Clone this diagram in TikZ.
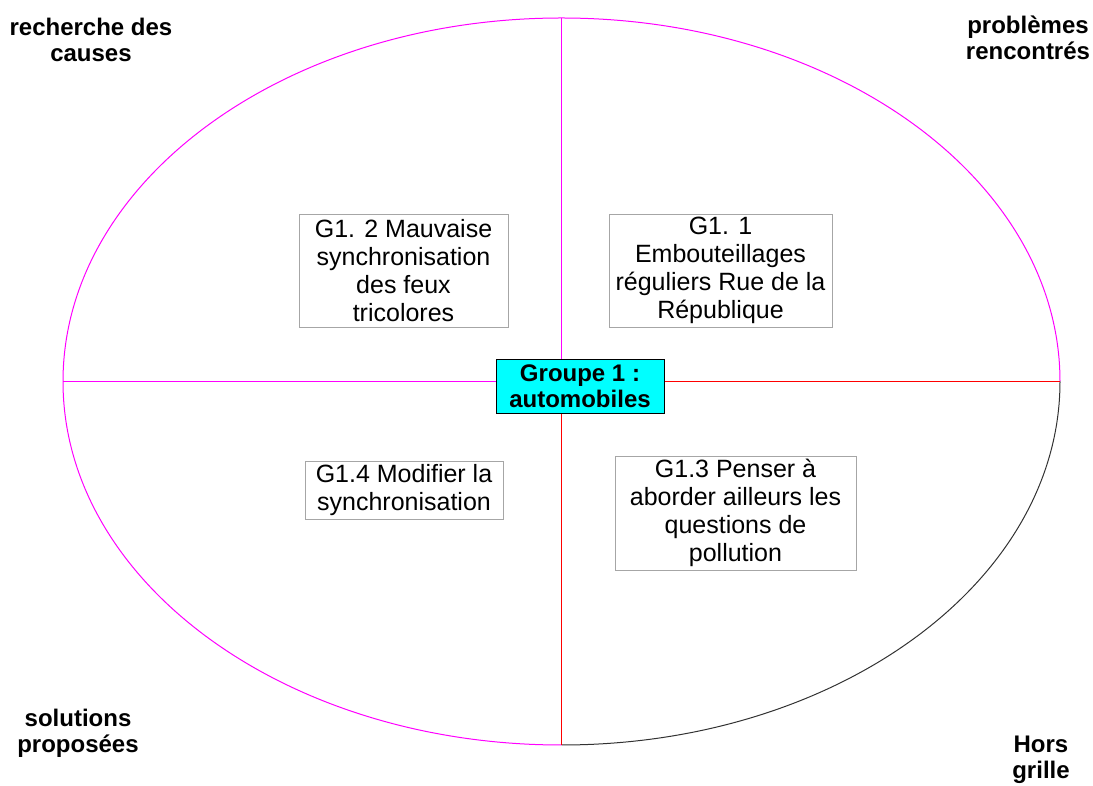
\documentclass[tikz,border=0pt]{standalone}
\usepackage{fontspec}
\setmainfont{Liberation Sans}
\definecolor{rose}{RGB}{255,0,255}
\definecolor{rouge}{RGB}{255,0,0}
\definecolor{turquoise}{RGB}{0,255,255}
\definecolor{grisfonce}{RGB}{50,50,50}

\begin{document}
\begin{tikzpicture}[x=1pt, y=1pt,
  carte/.style={draw=gray!70, line width=0.7pt, inner sep=0pt, align=center,
    font=\fontsize{25}{28}\selectfont},
  groupe/.style={draw=black, fill=turquoise, line width=0.8pt, inner sep=0pt, align=center,
    font=\fontsize{24}{26}\selectfont\bfseries},
  coin/.style={align=center, font=\fontsize{24}{26}\selectfont\bfseries},
  quart/.style={line width=1pt}]
\useasboundingbox (0,0) rectangle (1093,785);
% centre et axes
\coordinate (centre) at (561.5,403.5);
\coordinate (est) at (1060,403.5);
\coordinate (ouest) at (63,403.5);
\coordinate (nord) at (561.5,767);
\coordinate (sud) at (561.5,40);
% ellipse
\draw [quart, rose] (est) arc [start angle=0, end angle=270, x radius=498.5, y radius=363.5];
\draw [quart, grisfonce] (sud) arc [start angle=270, end angle=360, x radius=498.5, y radius=363.5];
\draw [quart, rose] (ouest) -- (centre) -- (nord);
\draw [quart, rouge] (sud) -- (centre) -- (est);
% cadres
\node [carte, minimum width=209, minimum height=113] (g12) at (403.5,514.5)
  {G1. 2 Mauvaise\\synchronisation\\des feux\\tricolores};
\node [carte, minimum width=223, minimum height=113] (g11) at (720.5,514.5)
  {G1. 1\\Embouteillages\\réguliers Rue de la\\République};
\node [carte, minimum width=198, minimum height=58] (g14) at (404,295)
  {G1.4 Modifier la\\synchronisation};
\node [carte, minimum width=241, minimum height=114] (g13) at (735.5,272)
  {G1.3 Penser à\\aborder ailleurs les\\questions de\\pollution};
\node [groupe, minimum width=168, minimum height=54] (grp) at (580,399)
  {Groupe 1 :\\automobiles};
% coins
\node [coin] (causes) at (91,745) {recherche des\\causes};
\node [coin] (problemes) at (1028,747) {problèmes\\rencontrés};
\node [coin] (solutions) at (78,52) {solutions\\proposées};
\node [coin] (hors) at (1041,25) {Hors\\grille};
\end{tikzpicture}
\end{document}
